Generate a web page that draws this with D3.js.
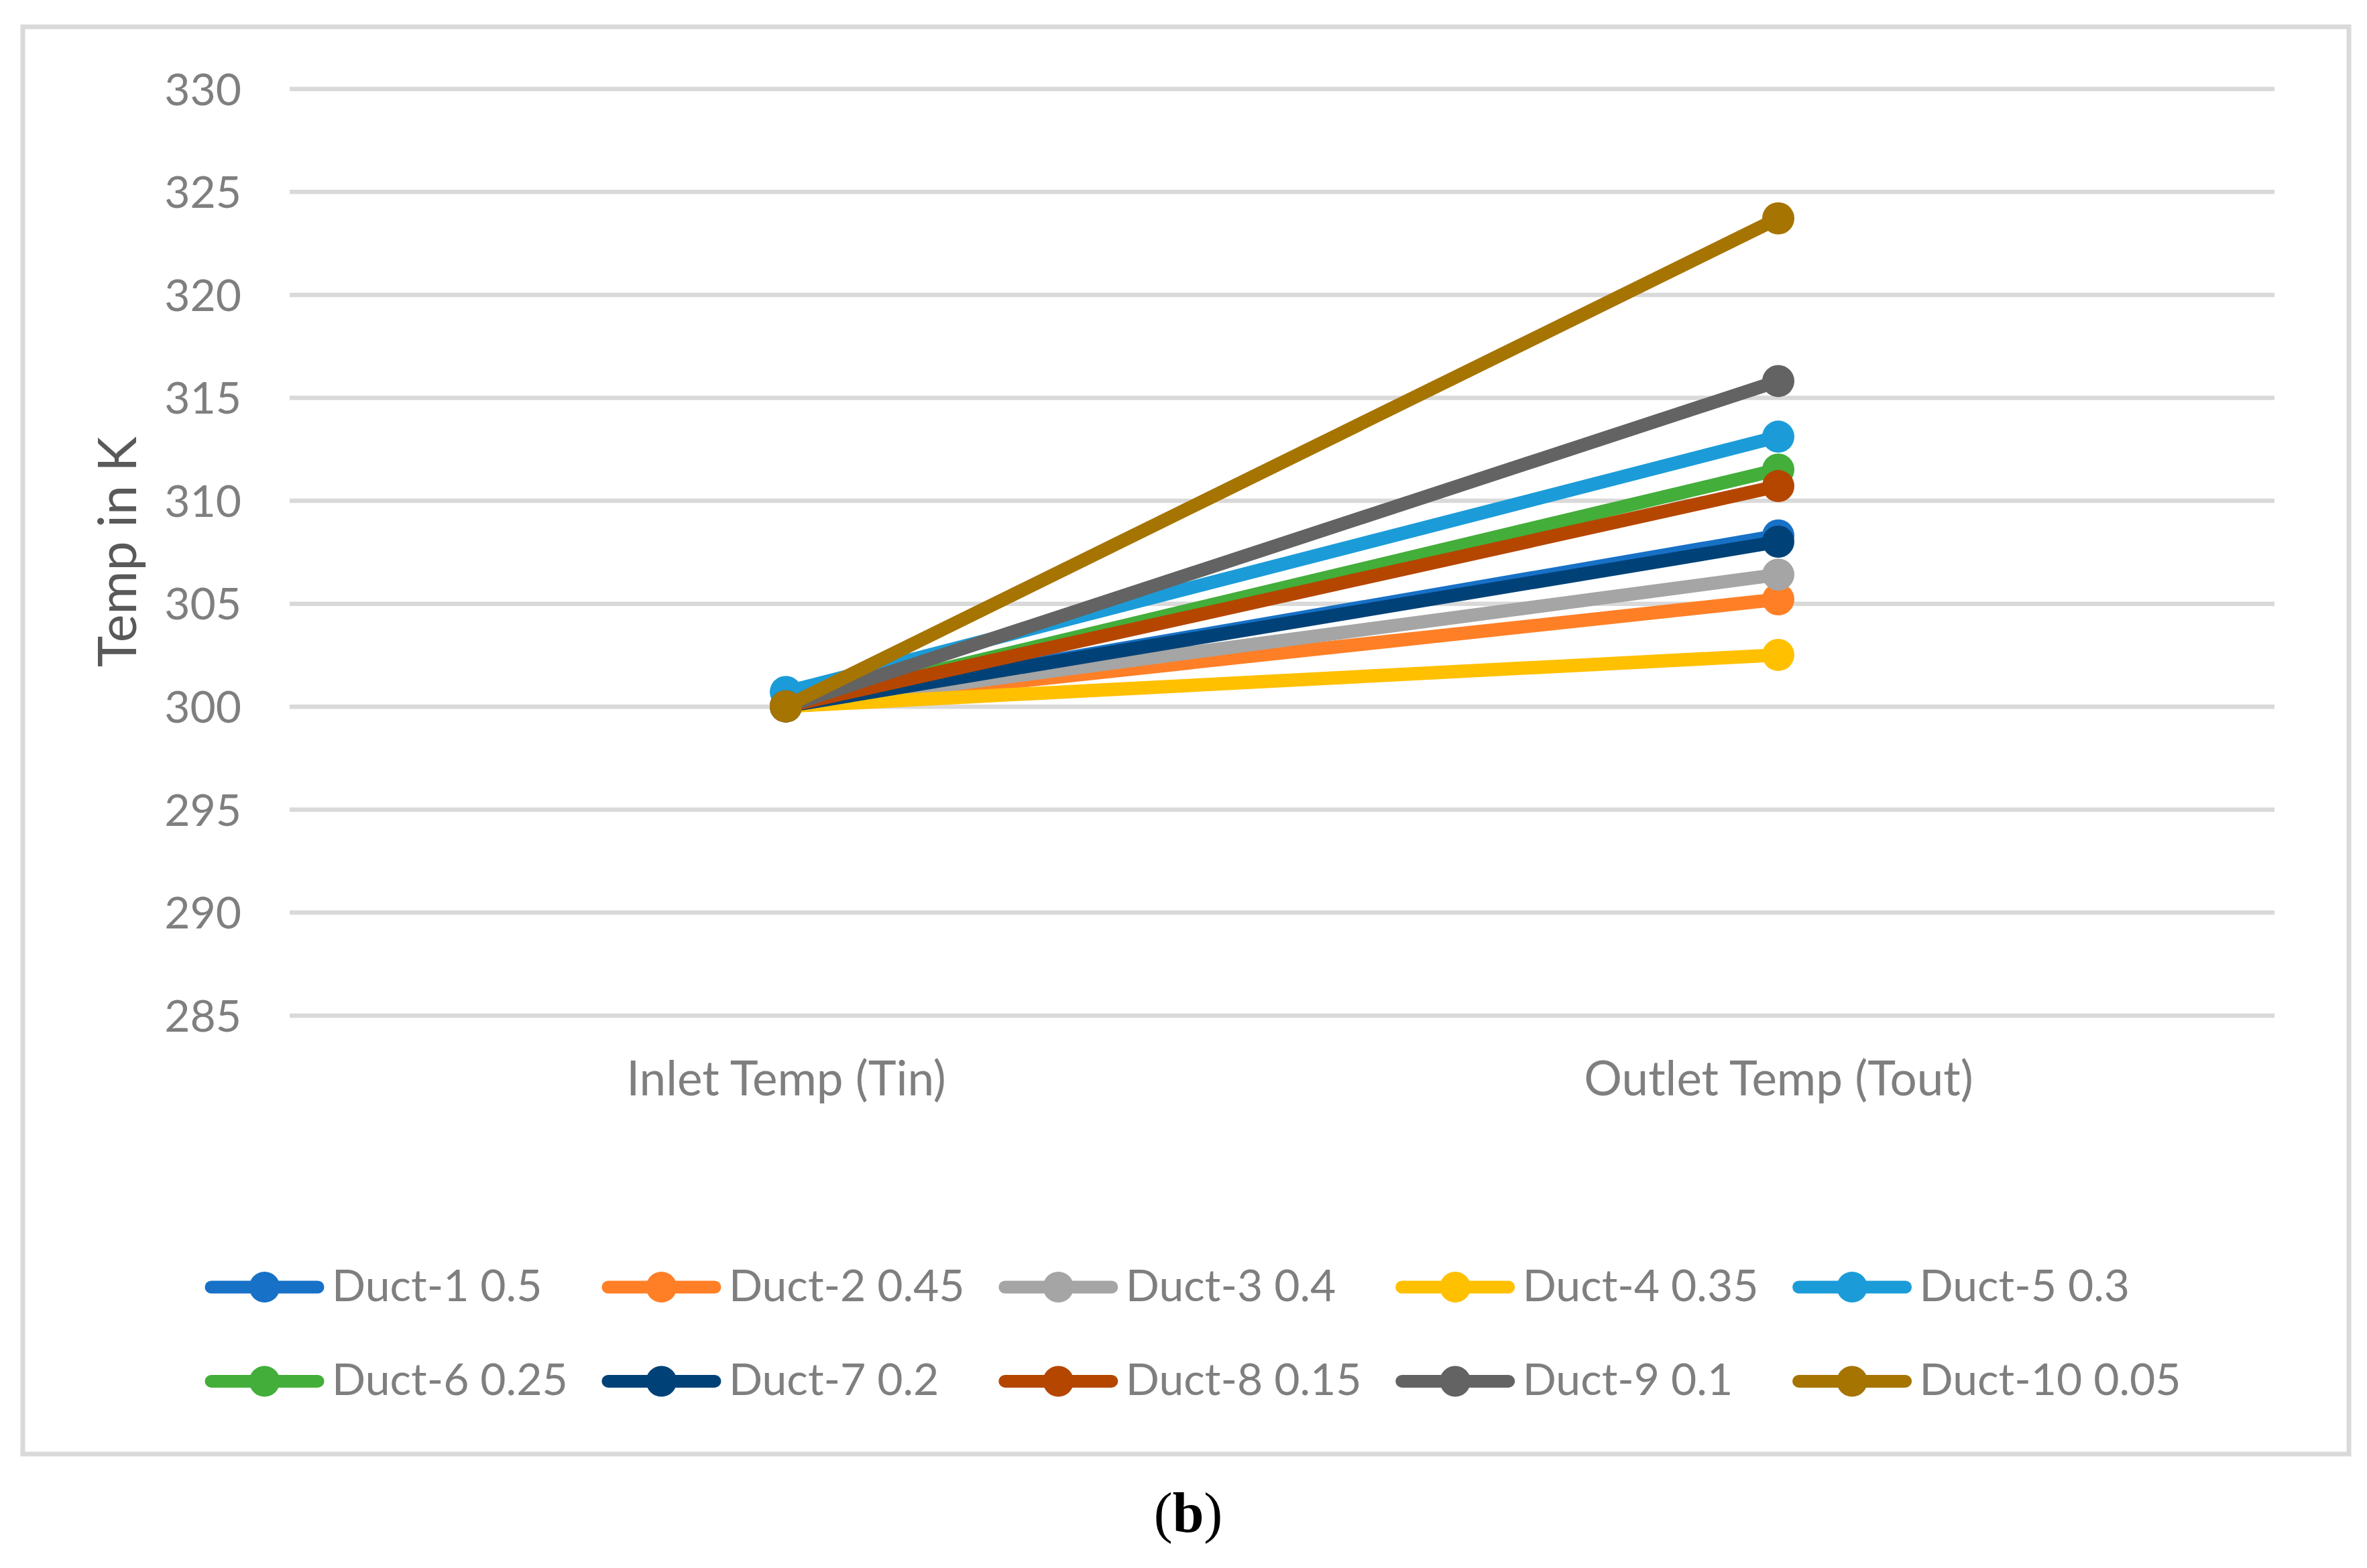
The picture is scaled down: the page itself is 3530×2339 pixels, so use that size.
<!DOCTYPE html>
<html>
<head>
<meta charset="utf-8">
<script src="https://cdn.jsdelivr.net/npm/d3@7"></script>
<style>
  body { margin: 0; background: #fff; }
  svg text { font-family: Lato, "Open Sans", sans-serif; }
</style>
</head>
<body>
<div id="chart"></div>
<script>
// chart data
const categories = ["Inlet Temp (Tin)", "Outlet Temp (Tout)"];
const seriesNames = ["Duct-1 0.5", "Duct-2 0.45", "Duct-3 0.4", "Duct-4 0.35", "Duct-5 0.3",
                     "Duct-6 0.25", "Duct-7 0.2", "Duct-8 0.15", "Duct-9 0.1", "Duct-10 0.05"];
const inletTemps  = [300, 300, 300, 300, 300.7, 300, 300, 300, 300, 300];
const outletTemps = [308.3, 305.2, 306.4, 302.5, 313.1, 311.5, 308.0, 310.7, 315.8, 323.7];
const yTicks = [285, 290, 295, 300, 305, 310, 315, 320, 325, 330];

const colors = ["#1771c7", "#ff7f27", "#a5a5a5", "#ffc000", "#1b9cd8",
                "#43ae3a", "#004277", "#b54600", "#636363", "#a67400"];

const W = 3530, H = 2339;
const plotLeft = 432, plotRight = 3392, plotTop = 132.3, plotBottom = 1514.4;

const svg = d3.select("#chart").append("svg")
    .attr("width", W).attr("height", H);

svg.append("rect").attr("width", W).attr("height", H).attr("fill", "#fff");

// outer frame
svg.append("rect")
    .attr("x", 34).attr("y", 40).attr("width", 3469).attr("height", 2129)
    .attr("fill", "none").attr("stroke", "#d9d9d9").attr("stroke-width", 7);

const x = d3.scalePoint().domain(categories).range([plotLeft, plotRight]).padding(0.5);
const y = d3.scaleLinear().domain([285, 330]).range([plotBottom, plotTop]);

// gridlines
svg.append("g")
    .attr("transform", `translate(${plotLeft},0)`)
    .call(d3.axisLeft(y).tickValues(yTicks).tickSize(-(plotRight - plotLeft)).tickFormat(""))
    .call(g => g.select(".domain").remove())
    .call(g => g.selectAll("line").attr("stroke", "#d9d9d9").attr("stroke-width", 6.5));

// y tick labels
svg.append("g")
    .attr("transform", `translate(${plotLeft},0)`)
    .call(d3.axisLeft(y).tickValues(yTicks).tickSize(0).tickPadding(72))
    .call(g => g.select(".domain").remove())
    .call(g => g.selectAll("text")
        .attr("fill", "#7f7f7f").attr("font-size", 66).attr("dy", "0.36em")
        .style("font-family", "Lato, sans-serif"));

// x labels
svg.append("g")
    .attr("transform", `translate(0,${plotBottom})`)
    .call(d3.axisBottom(x).tickSize(0).tickPadding(0))
    .call(g => g.select(".domain").remove())
    .call(g => g.selectAll("text")
        .attr("fill", "#7f7f7f").attr("font-size", 71).attr("dy", null).attr("y", 120)
        .style("font-family", "Lato, sans-serif"));

// y title
svg.append("text")
    .attr("transform", `translate(203,${(plotTop + plotBottom) / 2}) rotate(-90)`)
    .attr("text-anchor", "middle")
    .attr("fill", "#595959").attr("font-size", 79)
    .text("Temp in K");

const series = seriesNames.map((name, i) => ({
    name, color: colors[i],
    values: [{ cat: categories[0], v: inletTemps[i] }, { cat: categories[1], v: outletTemps[i] }]
}));

const line = d3.line().x(d => x(d.cat)).y(d => y(d.v));

const sg = svg.append("g").selectAll("g").data(series).join("g");
sg.append("path")
    .attr("d", d => line(d.values))
    .attr("fill", "none").attr("stroke", d => d.color)
    .attr("stroke-width", 20).attr("stroke-linecap", "round");
sg.selectAll("circle").data(d => d.values.map(v => ({ ...v, color: d.color }))).join("circle")
    .attr("cx", d => x(d.cat)).attr("cy", d => y(d.v)).attr("r", 24)
    .attr("fill", d => d.color);

// legend
const legend = svg.append("g").selectAll("g").data(series).join("g")
    .attr("transform", (d, i) => `translate(${305 + (i % 5) * 591.9},${1920 + Math.floor(i / 5) * 140.4})`);
legend.append("line")
    .attr("x1", 10).attr("x2", 169)
    .attr("stroke", d => d.color).attr("stroke-width", 19).attr("stroke-linecap", "round");
legend.append("circle").attr("cx", 89.5).attr("r", 23).attr("fill", d => d.color);
legend.append("text")
    .attr("x", 190).attr("y", 21)
    .attr("fill", "#7f7f7f").attr("font-size", 66)
    .text(d => d.name);

// caption
const cap = svg.append("text")
    .attr("x", 1772).attr("y", 2285).attr("text-anchor", "middle")
    .attr("font-size", 84).attr("fill", "#000")
    .style("font-family", "'Liberation Serif', 'DejaVu Serif', serif");
cap.append("tspan").text("(");
cap.append("tspan").attr("font-weight", "bold").text("b");
cap.append("tspan").text(")");
</script>
</body>
</html>
